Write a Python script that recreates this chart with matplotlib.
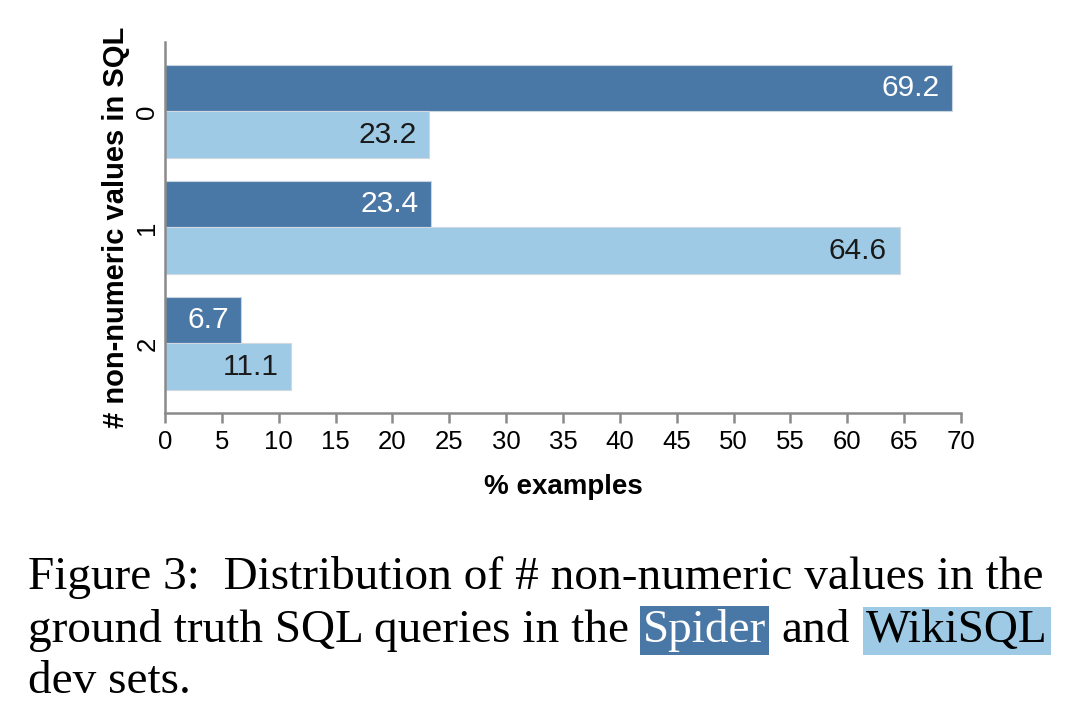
import numpy as np
import matplotlib.pyplot as plt

counts = ['0', '1', '2']
spider = [69.2, 23.4, 6.7]
wikisql = [23.2, 64.6, 11.1]
xticks = list(range(0, 75, 5))

dark = '#4a78a6'
light = '#9ecae6'
axis_col = '#8a8a8a'

plt.rcParams['font.family'] = ['Liberation Sans', 'DejaVu Sans']

fig = plt.figure(figsize=(10.78, 7.22), dpi=100)
ax = fig.add_axes([0.153, 0.428, 0.7385, 0.514])

y = np.arange(len(counts))
h = 0.4
b1 = ax.barh(y - h / 2, spider, height=h, color=dark, edgecolor='#c8d4e0', linewidth=0.8)
b2 = ax.barh(y + h / 2, wikisql, height=h, color=light, edgecolor='#d0d8e0', linewidth=0.8)

for bars, vals, tc in [(b1, spider, 'white'), (b2, wikisql, '#1a1a1a')]:
    for bar, v in zip(bars, vals):
        ax.annotate('%.1f' % v, (v, bar.get_y() + bar.get_height() / 2),
                    xytext=(-9, 0), textcoords='offset points',
                    ha='right', va='center', fontsize=21.5, color=tc)

ax.set_xlim(0, 70)
ax.set_ylim(2.6, -0.6)
ax.set_xticks(xticks)
ax.set_yticks(y)
ax.set_yticklabels(counts, rotation=90, va='center')
ax.tick_params(axis='x', length=7, width=1.8, color=axis_col, labelsize=18.5, pad=5)
ax.tick_params(axis='y', length=0, labelsize=18.5, pad=4)
for s in ['top', 'right']:
    ax.spines[s].set_visible(False)
for s in ['left', 'bottom']:
    ax.spines[s].set_color(axis_col)
    ax.spines[s].set_linewidth(1.8)

ax.set_xlabel('% examples', fontsize=20, fontweight='bold', labelpad=15)
ax.set_ylabel('# non-numeric values in SQL', fontsize=21, fontweight='bold', labelpad=4)

# caption
W, H = 1078, 722
serif = dict(family=['Liberation Serif', 'DejaVu Serif'], fontsize=34, va='baseline')
fig.text(28 / W, 1 - 589 / H, 'Figure 3:  Distribution of # non-numeric values in the', **serif)
fig.text(28 / W, 1 - 642 / H, 'ground truth SQL queries in the', **serif)
fig.text(643 / W, 1 - 642 / H, 'Spider', color='white',
         bbox=dict(boxstyle='square,pad=0.06', fc=dark, ec='none'), **serif)
fig.text(781 / W, 1 - 642 / H, 'and', **serif)
fig.text(866 / W, 1 - 642 / H, 'WikiSQL', color='black',
         bbox=dict(boxstyle='square,pad=0.06', fc=light, ec='none'), **serif)
fig.text(28 / W, 1 - 693 / H, 'dev sets.', **serif)

fig.savefig('out.png', dpi=100)
